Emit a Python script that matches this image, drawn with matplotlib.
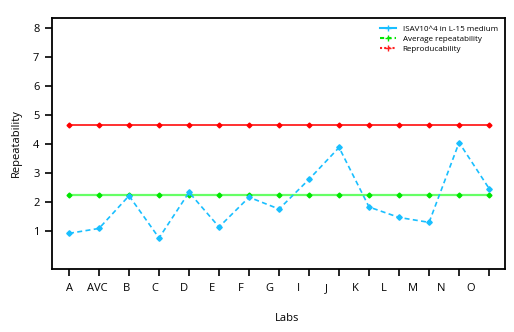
import numpy as np
import matplotlib.pyplot as plt
from matplotlib.lines import Line2D

plt.rcParams['font.family'] = ['Open Sans', 'DejaVu Sans']

labs = ['A', 'AVC', 'B', 'C', 'D', 'E', 'F', 'G', 'I', 'J', 'K', 'L', 'M', 'N', 'O']
isav = [0.91, 1.08, 2.21, 0.75, 2.33, 1.13, 2.16, 1.75, 2.78, 3.88, 1.82, 1.46, 1.29, 4.05, 2.46]
avg_rep = [2.24] * len(labs)
reprod = [4.65] * len(labs)


def main():
    x = np.arange(len(labs))
    fig = plt.figure(figsize=(5.14, 3.32), dpi=100)
    ax = fig.add_axes([0.101, 0.19, 0.8815, 0.756])

    ax.plot(x, reprod, color='#ff3030', lw=1.4, marker='D', ms=2.5, mfc='#ff0000', mec='#ff0000')
    ax.plot(x, avg_rep, color='#66ff66', lw=1.6, marker='D', ms=2.5, mfc='#00e600', mec='#00e600')
    ax.plot(x, isav, color='#19bfff', lw=1.2, ls=(0, (3, 2)), marker='D', ms=2.8,
            mfc='#19bfff', mec='#19bfff')

    ax.set_xlim(-0.57, 14.53)
    ax.set_ylim(-0.32, 8.36)
    ax.set_yticks(range(1, 9))

    # ticks sit on the points, labels drift a little like the original
    ax.xaxis.remove_overlapping_locs = False
    ax.set_xticks(x)
    ax.set_xticklabels([])
    ax.set_xticks(x * 0.955, minor=True)
    ax.set_xticklabels(labs, minor=True)
    ax.tick_params(axis='x', which='minor', length=0, pad=10, labelsize=8)
    ax.tick_params(axis='x', which='major', length=5, width=1.2)
    ax.tick_params(axis='y', length=5, width=1.2, labelsize=8, pad=4)

    for s in ax.spines.values():
        s.set_linewidth(1.3)

    ax.set_xlabel('Labs', fontsize=8, labelpad=12)
    ax.xaxis.set_label_coords(0.52, -0.175)
    ax.set_ylabel('Repeatability', fontsize=8, labelpad=8)

    handles = [
        Line2D([], [], color='#19bfff', lw=1.5, marker='+', ms=4, mew=1),
        Line2D([], [], color='#00e600', lw=1.5, ls=(0, (2, 1.5)), marker='+', ms=4, mew=1),
        Line2D([], [], color='#ff2020', lw=1.5, ls=(0, (1, 1)), marker='+', ms=4, mew=1),
    ]
    names = ['ISAV10^4 in L-15 medium', 'Average repeatability', 'Reproducability']
    ax.legend(handles, names, loc='upper right', fontsize=5.8, frameon=False,
              handlelength=2.0, labelspacing=0.3, borderaxespad=0.5)

    fig.savefig('out.png', dpi=100)


if __name__ == "__main__":
    main()
